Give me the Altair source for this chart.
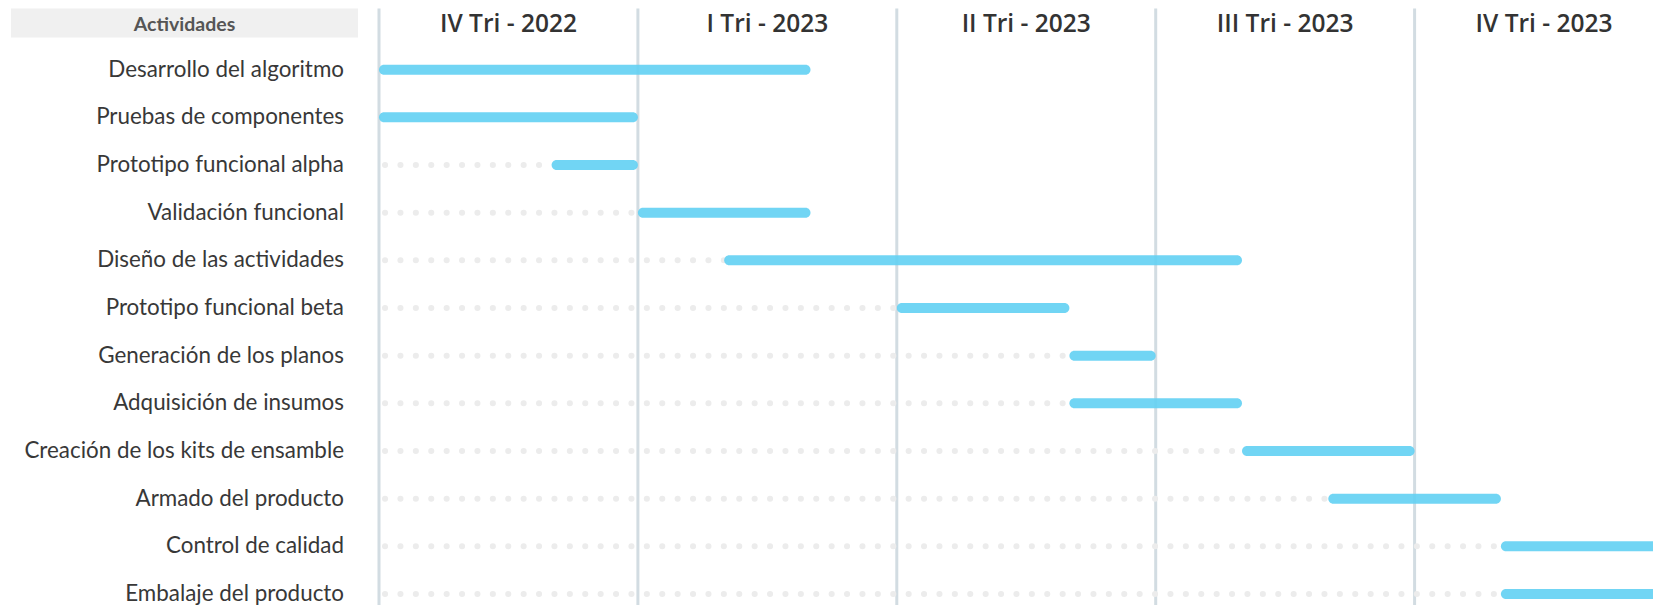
import altair as alt
import pandas as pd

# ---- data ----
activities = [
    "Desarrollo del algoritmo",
    "Pruebas de componentes",
    "Prototipo funcional alpha",
    "Validación funcional",
    "Diseño de las actividades",
    "Prototipo funcional beta",
    "Generación de los planos",
    "Adquisición de insumos",
    "Creación de los kits de ensamble",
    "Armado del producto",
    "Control de calidad",
    "Embalaje del producto",
]
# months counted from the start of Oct 2022 (0 = 1 Oct 2022)
start_month = [0, 0, 2, 3, 4, 6, 8, 8, 10, 11, 13, 13]
end_month = [5, 3, 3, 5, 10, 8, 9, 10, 12, 13, 15, 15]

quarter_labels = ["IV Tri - 2022", "I Tri - 2023", "II Tri - 2023", "III Tri - 2023", "IV Tri - 2023"]
quarter_start = [0, 3, 6, 9, 12]
header_title = "Actividades"

# ---- tables ----
tasks = pd.DataFrame({
    "activity": activities,
    "row": list(range(1, len(activities) + 1)),
    "start": start_month,
    "end": end_month,
    "origin": [0] * len(activities),
})
quarters = pd.DataFrame({
    "label": quarter_labels,
    "qstart": quarter_start,
    "qmid": [q + 1.5 for q in quarter_start],
    "row": [0] * len(quarter_labels),
})
header = pd.DataFrame({"label": [header_title], "row": [0]})

W, H = 1645, 597
month_px = 86.3
x0 = 371
row0, step = 14, 47.67

xs = alt.Scale(domain=[0, 15], range=[x0, x0 + 15 * month_px], padding=0, nice=False)
ys = alt.Scale(domain=[0, 12], range=[row0, row0 + 12 * step], padding=0, nice=False)

vlines = alt.Chart(quarters).mark_rule(color="#d2dce2", strokeWidth=3).encode(
    x=alt.X("qstart:Q", scale=xs, axis=None),
    y=alt.value(0.5),
    y2=alt.value(H),
)

dots = alt.Chart(tasks).transform_filter("datum.start > 0").mark_rule(
    color="#ececec", strokeWidth=6, strokeCap="round",
    strokeDash=[0.1, 15.3], strokeDashOffset=9.4,
).encode(
    x=alt.X("origin:Q", scale=xs, axis=None),
    x2="start:Q",
    y=alt.Y("row:Q", scale=ys, axis=None),
)

bars = alt.Chart(tasks).mark_bar(
    orient="horizontal", height=10, cornerRadius=5, color="#62d0f3", opacity=0.9, clip=True
).encode(
    x=alt.X("start:Q", scale=xs, axis=None),
    x2="end:Q",
    y=alt.Y("row:Q", scale=ys, axis=None),
)

row_labels = alt.Chart(tasks).mark_text(
    align="right", baseline="middle", font="Lato", fontSize=22.4, color="#383838"
).encode(
    x=alt.value(336),
    y=alt.Y("row:Q", scale=ys, axis=None),
    text="activity:N",
)

q_labels = alt.Chart(quarters).mark_text(
    align="center", baseline="middle", font="Open Sans", fontWeight=600,
    fontSize=24.5, color="#333333", dy=3.2,
).encode(
    x=alt.X("qmid:Q", scale=xs, axis=None),
    y=alt.Y("row:Q", scale=ys, axis=None),
    text="label:N",
)

head_box = alt.Chart(header).mark_rect(color="#f0f0f0").encode(
    x=alt.value(3), x2=alt.value(350), y=alt.value(0.5), y2=alt.value(29.5),
)
head_text = alt.Chart(header).mark_text(
    align="center", baseline="middle", font="Lato", fontWeight="bold",
    fontSize=19.5, color="#555555", dy=3,
).encode(
    x=alt.value(176.5),
    y=alt.Y("row:Q", scale=ys, axis=None),
    text="label:N",
)

chart = alt.layer(
    head_box, head_text, vlines, dots, bars, row_labels, q_labels
).properties(
    width=W, height=H, padding=0,
    autosize=alt.AutoSizeParams(type="none"),
).configure_view(stroke=None)

chart.save("out.html", embed_options={"renderer": "svg", "actions": False})
